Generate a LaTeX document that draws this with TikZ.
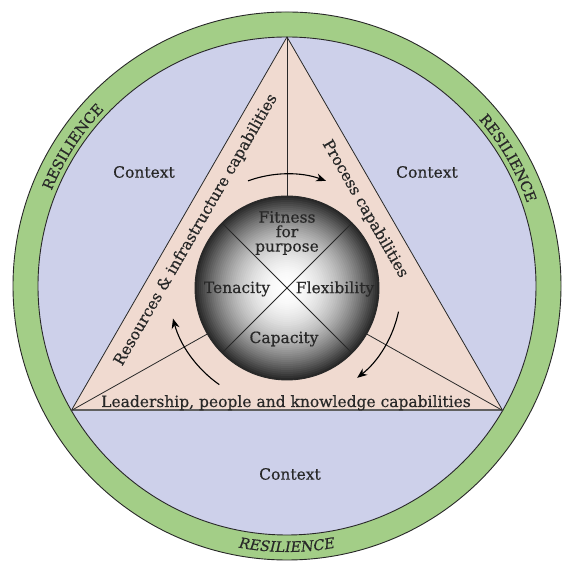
\documentclass[tikz,border=0pt]{standalone}
\usepackage{fontspec}
\setmainfont{DejaVu Serif}
\newfontfamily\heavyserif[FakeBold=0.45]{DejaVu Serif}
\usetikzlibrary{arrows.meta,decorations.text,calc}

\definecolor{ctxfill}{RGB}{205,208,234}
\definecolor{capfill}{RGB}{240,218,208}
\definecolor{ringfill}{RGB}{163,206,135}
\definecolor{ink}{RGB}{40,40,40}

\newcommand\resfont{\heavyserif\fontsize{14.5}{14.5}\selectfont}
\newcommand\resfontit{\heavyserif\fontsize{14.5}{14.5}\selectfont\itshape}

\begin{document}
\begin{tikzpicture}[x=1pt,y=1pt,
  lbl/.style={text=ink, font=\heavyserif\fontsize{15.5}{14.5}\selectfont, inner sep=0pt},
  edge/.style={draw=ink, line width=0.8pt},
  cyclearrow/.style={draw=black, line width=1.1pt, -{Stealth[length=10pt,width=8pt]}},
  ringtext/.style={decorate, decoration={text along path, text align=center,
      text color=ink, text={#1}}},
]
\useasboundingbox (0,0) rectangle (563,561);
\coordinate (O) at (287,275);
\coordinate (S) at (287,273);

% resilience ring and context disc
\fill[ringfill, even odd rule] (O) circle[radius=274] (O) circle[radius=249];
\fill[ctxfill] (O) circle[radius=249];
\draw[ink, line width=0.9pt] (O) circle[radius=274] (O) circle[radius=249];

% capability triangle
\coordinate (A) at ($(O)+(90:249)$);
\coordinate (B) at ($(O)+(210:249)$);
\coordinate (C) at ($(O)+(330:249)$);
\filldraw[fill=capfill, edge] (A) -- (B) -- (C) -- cycle;
\draw[gray!75!black, line width=2pt] (B) -- (C);

% spokes from the corners to the sphere
\coordinate (sA) at ($(S)+(90:92)$);
\coordinate (sB) at ($(S)+(210:92)$);
\coordinate (sC) at ($(S)+(330:92)$);
\draw[edge] (A) -- (sA);
\draw[edge] (B) -- (sB);
\draw[edge] (C) -- (sC);

% sphere: concentric discs from a dark rim to a white centre
\foreach \i in {0,...,46} {
  \pgfmathsetmacro\rr{92*(1-\i/46)}
  \pgfmathsetmacro\pp{84*(1-\i/46)^2}
  \fill[black!\pp] (S) circle[radius=\rr];
}
\coordinate (q1) at ($(S)+(45:92)$);
\coordinate (q2) at ($(S)+(135:92)$);
\coordinate (q3) at ($(S)+(225:92)$);
\coordinate (q4) at ($(S)+(315:92)$);
\draw[edge] (q1) -- (q3);
\draw[edge] (q2) -- (q4);
\draw[ink, line width=0.9pt] (S) circle[radius=92];

% clockwise cycle arrows
\draw[cyclearrow] (S) ++(110:114) arc[start angle=110, end angle=70, radius=114];
\draw[cyclearrow] (S) ++(-12:114) arc[start angle=-12, end angle=-52, radius=114];
\draw[cyclearrow] (S) ++(235:118) arc[start angle=235, end angle=195, radius=118];

% sphere labels
\node[lbl, align=center] (fit) at (287,328) {Fitness\\for\\purpose};
\node[lbl] (ten) at (237,272) {Tenacity};
\node[lbl] (flex) at (335,272) {Flexibility};
\node[lbl] (cap) at (284,222) {Capacity};

% capability labels along the sides
\node[lbl, rotate=60] (res) at (196,331) {Resources \& infrastructure capabilities};
\node[lbl, rotate=-60] (proc) at (365,352) {Process capabilities};
\node[lbl, anchor=base] (lead) at (286,154) {Leadership, people and knowledge capabilities};

% context labels
\node[lbl] (ctxL) at (144,389) {Context};
\node[lbl] (ctxR) at (427,389) {Context};
\node[lbl] (ctxB) at (290,87) {Context};

% resilience labels on the ring
\path[ringtext={|\resfont|RESILIENCE}] (O) ++(167:254) arc[start angle=167, end angle=127, radius=254];
\path[ringtext={|\resfont|RESILIENCE}] (O) ++(50:254) arc[start angle=50, end angle=10, radius=254];
\path[ringtext={|\resfontit|RESILIENCE}] (O) ++(-110:266) arc[start angle=-110, end angle=-70, radius=266];
\end{tikzpicture}
\end{document}
